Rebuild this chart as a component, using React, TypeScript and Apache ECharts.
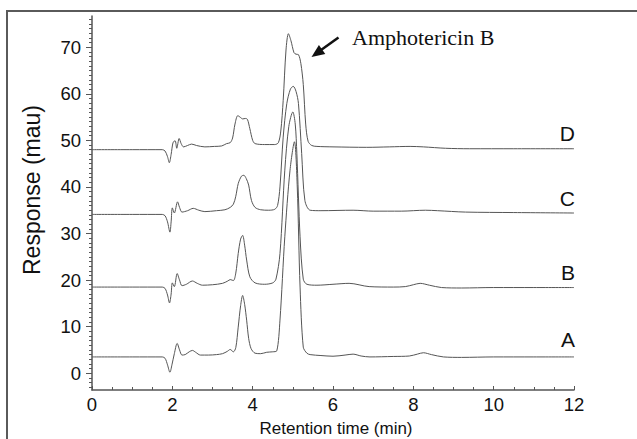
import React, { useEffect, useRef } from "react";
import * as echarts from "echarts";

// ---- Data (retention time in min, response in mau) ----
const traceA: [number, number][] = [
  [0, 3.5], [1.0, 3.5], [1.75, 3.5], [1.82, 3.2], [1.88, 1.8], [1.94, 0.2], [1.99, 1.8],
  [2.05, 4.2], [2.12, 6.4], [2.18, 5.0], [2.24, 3.9], [2.32, 4.0], [2.42, 4.6], [2.5, 4.9],
  [2.58, 4.5], [2.7, 3.9], [2.9, 3.9], [3.1, 4.0], [3.25, 4.2], [3.37, 4.7], [3.44, 5.1],
  [3.52, 4.6], [3.58, 5.5], [3.64, 9.9], [3.7, 14.5], [3.75, 16.7], [3.8, 14.8], [3.85, 11.4],
  [3.9, 7.5], [3.96, 5.3], [4.06, 4.3], [4.2, 4.2], [4.35, 4.5], [4.5, 4.6], [4.6, 4.8],
  [4.68, 11.4], [4.8, 29.3], [4.93, 43.6], [5.04, 49.7], [5.11, 40.0], [5.18, 18.5],
  [5.26, 5.6], [5.35, 4.3], [5.43, 4.0], [5.7, 3.8], [6.0, 3.65], [6.3, 3.9], [6.5, 4.1],
  [6.7, 3.7], [6.92, 3.5], [7.5, 3.6], [7.9, 3.7], [8.1, 4.1], [8.25, 4.4], [8.45, 4.0],
  [8.75, 3.5], [9.2, 3.4], [10, 3.5], [11, 3.5], [12, 3.5],
];

const traceB: [number, number][] = [
  [0, 18.5], [1.0, 18.5], [1.75, 18.5], [1.82, 18.2], [1.88, 16.8], [1.93, 15.1], [1.97, 17.0],
  [2.0, 19.4], [2.05, 18.6], [2.12, 21.4], [2.18, 20.0], [2.24, 18.8], [2.35, 19.1], [2.5, 19.8],
  [2.62, 19.3], [2.75, 18.9], [3.0, 19.0], [3.25, 19.3], [3.38, 19.8], [3.44, 20.1], [3.52, 19.9],
  [3.58, 21.5], [3.64, 25.7], [3.7, 28.8], [3.75, 29.6], [3.8, 27.5], [3.85, 24.3], [3.93, 20.7],
  [4.06, 19.4], [4.3, 19.1], [4.5, 19.4], [4.58, 20.2], [4.68, 25.7], [4.8, 43.6], [4.9, 53.0],
  [5.0, 56.1], [5.06, 53.5], [5.1, 47.2], [5.18, 29.3], [5.26, 20.2], [5.35, 19.1], [5.6, 18.9],
  [6.0, 19.1], [6.4, 19.3], [6.9, 18.6], [7.5, 18.5], [7.8, 18.6], [8.0, 19.0], [8.17, 19.3],
  [8.4, 18.9], [8.7, 18.4], [9.2, 18.3], [10, 18.4], [11, 18.4], [12, 18.4],
];

const traceC: [number, number][] = [
  [0, 34.1], [1.0, 34.1], [1.75, 34.1], [1.82, 33.8], [1.88, 32.5], [1.94, 30.3], [1.97, 32.5],
  [2.0, 35.5], [2.05, 34.4], [2.13, 36.8], [2.18, 35.6], [2.24, 34.6], [2.38, 34.9], [2.52, 35.4],
  [2.66, 35.0], [2.81, 34.7], [3.1, 34.9], [3.31, 35.1], [3.44, 35.6], [3.52, 36.3], [3.58, 38.0],
  [3.64, 40.7], [3.72, 42.3], [3.78, 42.5], [3.84, 41.8], [3.9, 40.4], [3.97, 37.1], [4.06, 35.6],
  [4.2, 35.1], [4.4, 35.0], [4.55, 35.2], [4.62, 36.0], [4.68, 40.0], [4.76, 50.7], [4.85, 57.9],
  [4.94, 61.0], [5.01, 61.6], [5.08, 60.5], [5.14, 57.9], [5.22, 47.2], [5.3, 37.1], [5.43, 35.0],
  [5.7, 34.9], [6.5, 35.0], [7.0, 34.8], [7.7, 34.8], [8.3, 35.0], [8.6, 34.9], [9.3, 34.6],
  [10.5, 34.5], [12, 34.4],
];

const traceD: [number, number][] = [
  [0, 48.0], [1.0, 48.0], [1.75, 48.0], [1.82, 47.7], [1.88, 46.5], [1.925, 45.2], [1.97, 47.0],
  [2.02, 49.6], [2.07, 49.9], [2.11, 48.3], [2.17, 50.4], [2.22, 49.3], [2.28, 48.6], [2.38, 48.9],
  [2.48, 49.2], [2.6, 48.9], [2.81, 48.6], [3.05, 48.7], [3.23, 48.8], [3.35, 49.3], [3.44, 49.5],
  [3.5, 50.5], [3.56, 53.5], [3.63, 55.3], [3.7, 54.9], [3.75, 54.6], [3.82, 54.7], [3.87, 54.5],
  [3.93, 52.5], [4.0, 50.0], [4.06, 49.3], [4.3, 49.1], [4.55, 49.1], [4.64, 49.5], [4.7, 52.0],
  [4.76, 58.6], [4.83, 69.4], [4.89, 72.9], [4.95, 71.5], [5.03, 68.8], [5.08, 68.5], [5.14, 68.4],
  [5.2, 66.5], [5.26, 62.0], [5.32, 53.5], [5.38, 49.8], [5.47, 48.9], [5.6, 48.7], [6.0, 48.6],
  [6.84, 48.5], [7.4, 48.6], [7.92, 48.7], [8.25, 48.6], [8.8, 48.3], [9.4, 48.2], [10.5, 48.2],
  [12, 48.2],
];

const traceNames = ["A", "B", "C", "D"];
const traces = [traceA, traceB, traceC, traceD];
const xTickLabels = [0, 2, 4, 6, 8, 10, 12];
const yTickLabels = [0, 10, 20, 30, 40, 50, 60, 70];
const annotation = "Amphotericin B";
const xTitle = "Retention time (min)";
const yTitle = "Response (mau)";

// ---- Layout ----
const W = 637;
const H = 439;
const GRID_LEFT = 92;
const GRID_RIGHT = 63;
const GRID_TOP = 16;
const GRID_BOTTOM = 49;
const Y_MIN = -3.6;
const Y_MAX = 76.7;
const X_MIN = 0;
const X_MAX = 12;

const plotH = H - GRID_TOP - GRID_BOTTOM;
const pxY = (v: number) => GRID_TOP + ((Y_MAX - v) * plotH) / (Y_MAX - Y_MIN);

const FONT = "'Liberation Sans', Arial, Helvetica, sans-serif";
const LINE_COLOR = "#555";
const AXIS_COLOR = "#555";

export default function App() {
  const ref = useRef<HTMLDivElement>(null);

  useEffect(() => {
    if (!ref.current) return;
    const chart = echarts.init(ref.current, undefined, { renderer: "svg" });

    const minorLo = -3;
    const minorHi = 76;
    const majorLo = yTickLabels[0];
    const majorHi = yTickLabels[yTickLabels.length - 1];

    const hiddenX = (gridIndex: number) => ({
      type: "value" as const,
      gridIndex,
      min: X_MIN,
      max: X_MAX,
      show: false,
    });

    const option: any = {
      animation: false,
      backgroundColor: "#fff",
      grid: [
        { left: GRID_LEFT, right: GRID_RIGHT, top: GRID_TOP, bottom: GRID_BOTTOM },
        { left: GRID_LEFT, right: GRID_RIGHT, top: pxY(minorHi), bottom: H - pxY(minorLo) },
        { left: GRID_LEFT, right: GRID_RIGHT, top: pxY(majorHi), bottom: H - pxY(majorLo) },
      ],
      xAxis: [
        {
          type: "value",
          gridIndex: 0,
          min: X_MIN,
          max: X_MAX,
          interval: 2,
          axisLine: { show: true, onZero: false, lineStyle: { color: AXIS_COLOR, width: 1.5 } },
          axisTick: { show: true, inside: true, length: 4, lineStyle: { color: AXIS_COLOR, width: 1 } },
          minorTick: { show: true, splitNumber: 4, length: 3, lineStyle: { color: AXIS_COLOR, width: 1 } },
          splitLine: { show: false },
          axisLabel: {
            margin: 5,
            fontFamily: FONT,
            fontSize: 18.5,
            color: "#111",
            formatter: (v: number) => (xTickLabels.includes(v) ? String(v) : ""),
          },
        },
        hiddenX(1),
        hiddenX(2),
      ],
      yAxis: [
        {
          type: "value",
          gridIndex: 0,
          min: Y_MIN,
          max: Y_MAX,
          axisLine: { show: true, onZero: false, lineStyle: { color: AXIS_COLOR, width: 1.5 } },
          axisTick: { show: false },
          axisLabel: { show: false },
          splitLine: { show: false },
        },
        {
          type: "value",
          gridIndex: 1,
          min: minorLo,
          max: minorHi,
          interval: 1,
          axisLine: { show: false },
          axisTick: { show: true, length: 3, lineStyle: { color: AXIS_COLOR, width: 1 } },
          axisLabel: { show: false },
          splitLine: { show: false },
        },
        {
          type: "value",
          gridIndex: 2,
          min: majorLo,
          max: majorHi,
          interval: 10,
          axisLine: { show: false },
          axisTick: { show: true, length: 6, lineStyle: { color: AXIS_COLOR, width: 1 } },
          axisLabel: {
            margin: 11,
            fontFamily: FONT,
            fontSize: 18.5,
            color: "#111",
          },
          splitLine: { show: false },
        },
      ],
      series: traces.map((d, i) => ({
        name: traceNames[i],
        type: "line",
        xAxisIndex: 0,
        yAxisIndex: 0,
        data: d,
        showSymbol: false,
        smooth: 0.3,
        lineStyle: { color: LINE_COLOR, width: 1 },
        z: 3,
      })),
      graphic: [
        {
          type: "rect",
          shape: { x: 7, y: 11, width: 700, height: 500 },
          style: { fill: "none", stroke: "#5a5a5a", lineWidth: 2 },
          silent: true,
        },
        {
          type: "text",
          x: 32,
          y: 190,
          rotation: Math.PI / 2,
          style: {
            text: yTitle,
            fontFamily: FONT,
            fontSize: 23,
            fill: "#111",
            align: "center",
            verticalAlign: "middle",
          },
        },
        {
          type: "text",
          x: 336,
          y: 428,
          style: {
            text: xTitle,
            fontFamily: FONT,
            fontSize: 17,
            fill: "#111",
            align: "center",
            verticalAlign: "middle",
          },
        },
        ...[
          { t: "D", y: 133 },
          { t: "C", y: 198 },
          { t: "B", y: 272 },
          { t: "A", y: 339 },
        ].map((l) => ({
          type: "text",
          x: 575,
          y: l.y,
          style: {
            text: l.t,
            fontFamily: FONT,
            fontSize: 21,
            fill: "#111",
            align: "right",
            verticalAlign: "middle",
          },
        })),
        {
          type: "text",
          x: 352,
          y: 37,
          style: {
            text: annotation,
            fontFamily: "'Liberation Serif', 'DejaVu Serif', serif",
            fontSize: 22,
            fill: "#111",
            align: "left",
            verticalAlign: "middle",
          },
        },
        {
          type: "line",
          shape: { x1: 338.5, y1: 37.5, x2: 320, y2: 50.8 },
          style: { stroke: "#111", lineWidth: 2.5 },
        },
        {
          type: "polygon",
          shape: { points: [[311.5, 57], [318.9, 44.9], [325.3, 53.9]] },
          style: { fill: "#111", stroke: "none" },
        },
      ],
    };

    chart.setOption(option);
    return () => chart.dispose();
  }, []);

  return (
    <div
      ref={ref}
      style={{ position: "absolute", left: 0, top: 0, width: W, height: H, background: "#fff" }}
    />
  );
}
